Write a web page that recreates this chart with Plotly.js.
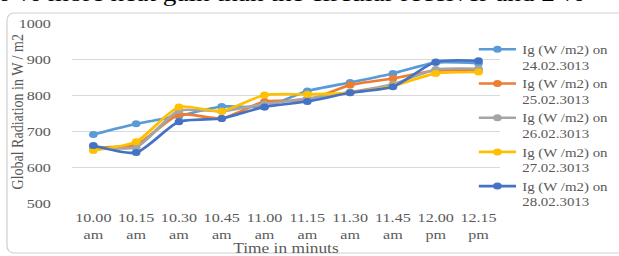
<!DOCTYPE html>
<html>
<head>
<meta charset="utf-8">
<script src="https://cdn.plot.ly/plotly-3.0.1.min.js"></script>
<style>
  html, body { margin: 0; padding: 0; background: #ffffff; overflow: hidden; }
  #wrap { width: 619px; height: 256px; overflow: hidden; position: relative; }
  #chart { width: 530px; height: 256px; transform: scaleX(1.2405); transform-origin: 0 0; }
</style>
</head>
<body>
<div id="wrap"><div id="chart"></div></div>
<script>
// ---- data ----
const times = ["10.00<br>am", "10.15<br>am", "10.30<br>am", "10.45<br>am", "11.00<br>am",
               "11.15<br>am", "11.30<br>am", "11.45<br>am", "12.00<br>pm", "12.15<br>pm"];
const seriesNames = ["Ig (W /m2) on<br>24.02.3013", "Ig (W /m2) on<br>25.02.3013",
                     "Ig (W /m2) on<br>26.02.3013", "Ig (W /m2) on<br>27.02.3013",
                     "Ig (W /m2) on<br>28.02.3013"];
const ig24 = [690, 720, 742, 768, 767, 811, 835, 860, 890, 888];
const ig25 = [655, 662, 746, 735, 782, 785, 828, 846, 868, 868];
const ig26 = [655, 655, 757, 755, 775, 790, 808, 830, 871, 873];
const ig27 = [646, 670, 767, 755, 800, 802, 806, 825, 860, 864];
const ig28 = [660, 640, 726, 735, 767, 782, 806, 823, 892, 895];
const yTicks = [500, 600, 700, 800, 900, 1000];
const colors = ["#5B9BD5", "#ED7D31", "#A5A5A5", "#FFC000", "#4472C4"];
const headerText = "0 % more heat gain than the circular receiver and 2 %";
const xTitle = "Time in minuts";
const yTitle = "Global Radiation in W / m2";

const allSeries = [ig24, ig25, ig26, ig27, ig28];
const traces = allSeries.map((ys, i) => ({
  type: "scatter",
  mode: "lines+markers",
  x: times,
  y: ys,
  name: seriesNames[i],
  line: { color: colors[i], width: 2.6, shape: "spline", smoothing: 0.6 },
  marker: { color: colors[i], size: 7 }
}));

// pixel -> paper helpers (unscaled layout pixels)
const WID = 530, HEI = 256, L = 58, R = WID - 403, T = 23, B = 53;
const pw = WID - L - R, ph = HEI - T - B;
const px = v => (v - L) / pw;
const py = v => (HEI - B - v) / ph;

// rounded border frame
const bx0 = 5.6, bx1 = 525, by0 = 13, by1 = 253, rx = 6.5, ry = 8;
const framePath =
  `M ${px(bx0 + rx)},${py(by0)} L ${px(bx1)},${py(by0)} ` +
  `M ${px(bx1)},${py(by1)} L ${px(bx0 + rx)},${py(by1)} ` +
  `Q ${px(bx0)},${py(by1)} ${px(bx0)},${py(by1 - ry)} ` +
  `L ${px(bx0)},${py(by0 + ry)} Q ${px(bx0)},${py(by0)} ${px(bx0 + rx)},${py(by0)}`;

const serif = "'Liberation Serif', 'Times New Roman', serif";
const layout = {
  width: WID, height: HEI,
  margin: { l: L, r: R, t: T, b: B, pad: 0 },
  paper_bgcolor: "rgba(0,0,0,0)",
  plot_bgcolor: "rgba(0,0,0,0)",
  font: { family: serif, color: "#595959", size: 13 },
  showlegend: true,
  legend: {
    x: px(381), y: py(35), xanchor: "left", yanchor: "top",
    valign: "top", bgcolor: "rgba(0,0,0,0)",
    font: { family: serif, size: 12, color: "#595959" },
    tracegroupgap: 0
  },
  xaxis: {
    type: "category", range: [-0.5, 9.5],
    showgrid: false, zeroline: false, showline: false,
    ticks: "", ticklabelstandoff: 5,
    tickfont: { family: serif, size: 13, color: "#595959" },
    title: { text: xTitle, font: { family: serif, size: 14, color: "#595959" }, standoff: 4 },
    automargin: false, fixedrange: true
  },
  yaxis: {
    range: [500, 1000], tickvals: yTicks, ticktext: yTicks.map(String),
    showgrid: true, gridcolor: "#d9d9d9", gridwidth: 1,
    zeroline: false, showline: false, ticks: "",
    ticklabelstandoff: 16,
    tickfont: { family: serif, size: 13, color: "#595959" },
    automargin: false, fixedrange: true
  },
  shapes: [
    { type: "path", xref: "paper", yref: "paper", path: framePath,
      line: { color: "#d0d0d0", width: 1 }, layer: "below" }
  ],
  annotations: [
    { text: headerText, xref: "paper", yref: "paper", x: px(-4), y: py(8),
      xanchor: "left", yanchor: "bottom", showarrow: false,
      font: { family: serif, size: 22, color: "#000000" } },
    { text: yTitle, xref: "paper", yref: "paper", x: px(14), y: py(112.5),
      xanchor: "center", yanchor: "middle", textangle: -90, showarrow: false,
      font: { family: serif, size: 14, color: "#595959" } }
  ]
};

Plotly.newPlot("chart", traces, layout, { displayModeBar: false, staticPlot: true });
</script>
</body>
</html>
